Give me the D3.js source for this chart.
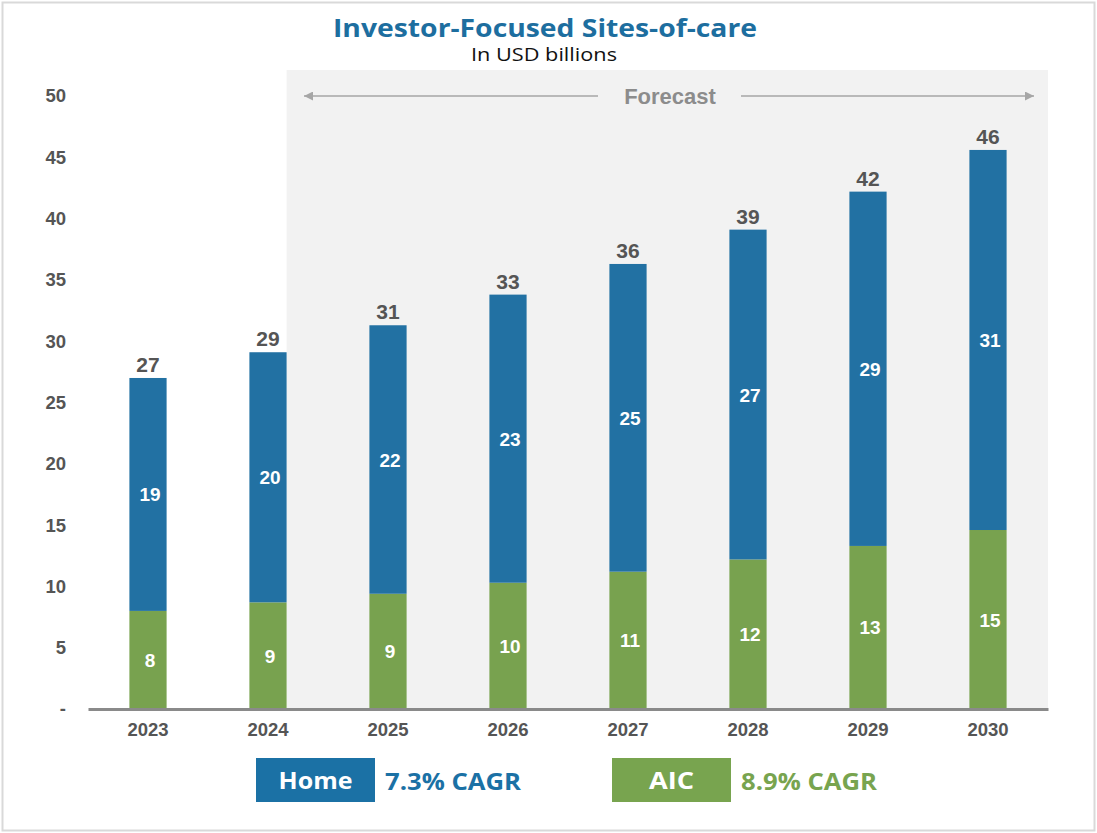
<!DOCTYPE html>
<html>
<head>
<meta charset="utf-8">
<script src="https://cdn.jsdelivr.net/npm/d3@7"></script>
<style>
  html, body { margin: 0; padding: 0; background: #fff; }
  svg { display: block; }
</style>
</head>
<body>
<svg id="chart" width="1097" height="833"></svg>
<script>
// ---- Data ----
const years = ["2023", "2024", "2025", "2026", "2027", "2028", "2029", "2030"];
const aicValues  = [8.0, 8.7, 9.4, 10.3, 11.2, 12.2, 13.3, 14.6];
const homeValues = [19.0, 20.4, 21.9, 23.5, 25.1, 26.9, 28.9, 31.0];
const aicLabels   = ["8", "9", "9", "10", "11", "12", "13", "15"];
const homeLabels  = ["19", "20", "22", "23", "25", "27", "29", "31"];
const totalLabels = ["27", "29", "31", "33", "36", "39", "42", "46"];
const yTicks = [0, 5, 10, 15, 20, 25, 30, 35, 40, 45, 50];
const forecastStart = "2025";
const legendItems = [
  { name: "Home", cagr: "7.3% CAGR", key: "home" },
  { name: "AIC",  cagr: "8.9% CAGR", key: "aic" }
];

// ---- Styles ----
const BLUE = "#2271a3", GREEN = "#78a24f";
const LEG_BLUE = "#1b71a5", LEG_GREEN = "#78a44f";
const TEXT_GREY = "#555555";
const SANS = "'Liberation Sans', Arial, sans-serif";
const MONT = "'Open Sans', 'Noto Sans', sans-serif";

const svg = d3.select("#chart");
const W = 1097, H = 833;

// frame
svg.append("rect").attr("x", 2.5).attr("y", 2.5).attr("width", W - 5).attr("height", H - 5)
  .attr("fill", "#fff").attr("stroke", "#d9d9d9").attr("stroke-width", 2);

const x = d3.scaleBand().domain(years).range([88, 1048]).paddingInner(0.69).paddingOuter(0.345);
const y = d3.scaleLinear().domain([0, 50]).range([709, 96]);

// stacked data
const rows = years.map((yr, i) => ({ year: yr, aic: aicValues[i], home: homeValues[i], i }));
const stack = d3.stack().keys(["aic", "home"]);
const series = stack(rows);
const colors = { aic: GREEN, home: BLUE };
const segLabels = { aic: aicLabels, home: homeLabels };

// forecast shading: starts at right edge of the last actual bar
const prevYear = years[years.indexOf(forecastStart) - 1];
const fx0 = x(prevYear) + x.bandwidth();
svg.append("rect").attr("x", fx0).attr("y", 70).attr("width", 1048 - fx0).attr("height", 709 - 70)
  .attr("fill", "#f2f2f2");

// forecast arrows and text
const fy = 96;
const defs = svg.append("defs");
defs.append("marker").attr("id", "arrow").attr("viewBox", "0 0 10 10").attr("refX", 10).attr("refY", 5)
  .attr("markerWidth", 10).attr("markerHeight", 9).attr("markerUnits", "userSpaceOnUse")
  .attr("orient", "auto")
  .append("path").attr("d", "M0,0 L10,5 L0,10 Z").attr("fill", "#a6a6a6");
svg.append("line").attr("x1", 598).attr("x2", 304).attr("y1", fy).attr("y2", fy)
  .attr("stroke", "#a6a6a6").attr("stroke-width", 1.5).attr("marker-end", "url(#arrow)");
svg.append("line").attr("x1", 741).attr("x2", 1034).attr("y1", fy).attr("y2", fy)
  .attr("stroke", "#a6a6a6").attr("stroke-width", 1.5).attr("marker-end", "url(#arrow)");
svg.append("text").attr("x", 670).attr("y", fy + 8).attr("text-anchor", "middle")
  .attr("font-family", SANS).attr("font-weight", "bold").attr("font-size", 22)
  .attr("fill", "#8c8c8c").text("Forecast");

// title
svg.append("text").attr("x", 545).attr("y", 37).attr("text-anchor", "middle")
  .attr("font-family", MONT).attr("font-weight", "bold").attr("font-size", 25)
  .attr("textLength", 424).attr("lengthAdjust", "spacingAndGlyphs")
  .attr("fill", "#1d6e9f").text("Investor-Focused Sites-of-care");
svg.append("text").attr("x", 544).attr("y", 61).attr("text-anchor", "middle")
  .attr("font-family", MONT).attr("font-size", 18)
  .attr("textLength", 146).attr("lengthAdjust", "spacingAndGlyphs")
  .attr("fill", "#111").text("In USD billions");

// y axis labels
const yAxis = d3.axisLeft(y).tickValues(yTicks).tickSize(0).tickPadding(0)
  .tickFormat(d => d === 0 ? "-" : d);
const yg = svg.append("g").attr("transform", "translate(66,0)").call(yAxis);
yg.select(".domain").remove();
yg.selectAll("text").attr("font-family", SANS).attr("font-weight", "bold")
  .attr("font-size", 18.5).attr("fill", TEXT_GREY);

// bars
const g = svg.append("g");
series.forEach(s => {
  g.selectAll(null).data(s).join("rect")
    .attr("x", d => x(d.data.year))
    .attr("y", d => y(d[1]))
    .attr("width", x.bandwidth())
    .attr("height", d => y(d[0]) - y(d[1]))
    .attr("fill", colors[s.key]);
  g.selectAll(null).data(s).join("text")
    .attr("x", d => x(d.data.year) + x.bandwidth() / 2 + 2)
    .attr("y", d => (y(d[0]) + y(d[1])) / 2 + 7)
    .attr("text-anchor", "middle")
    .attr("font-family", SANS).attr("font-weight", "bold").attr("font-size", 19)
    .attr("fill", "#fff")
    .text(d => segLabels[s.key][d.data.i]);
});

// totals
const topSeries = series[series.length - 1];
g.selectAll(null).data(topSeries).join("text")
  .attr("x", d => x(d.data.year) + x.bandwidth() / 2)
  .attr("y", d => y(d[1]) - 6)
  .attr("text-anchor", "middle")
  .attr("font-family", SANS).attr("font-weight", "bold").attr("font-size", 21)
  .attr("fill", TEXT_GREY)
  .text(d => totalLabels[d.data.i]);

// x axis
const xAxis = d3.axisBottom(x).tickSize(0).tickPadding(14);
const xg = svg.append("g").attr("transform", "translate(0,709)").call(xAxis);
xg.select(".domain").attr("stroke", "#8a8a8a").attr("stroke-width", 3);
xg.selectAll("text").attr("font-family", SANS).attr("font-weight", "bold")
  .attr("font-size", 18.5).attr("fill", TEXT_GREY);

// legend
const legX = [256, 612];
const nameLen = { home: 74, aic: 45 };
legendItems.forEach((it, i) => {
  const c = it.key === "home" ? LEG_BLUE : LEG_GREEN;
  const lg = svg.append("g").attr("transform", `translate(${legX[i]},758)`);
  lg.append("rect").attr("width", 119).attr("height", 44).attr("fill", c);
  lg.append("text").attr("x", 59.5).attr("y", 31).attr("text-anchor", "middle")
    .attr("font-family", MONT).attr("font-weight", "bold").attr("font-size", 23)
    .attr("textLength", nameLen[it.key]).attr("lengthAdjust", "spacingAndGlyphs")
    .attr("fill", "#fff").text(it.name);
  lg.append("text").attr("x", 129).attr("y", 32)
    .attr("font-family", MONT).attr("font-weight", "bold").attr("font-size", 23)
    .attr("textLength", 136).attr("lengthAdjust", "spacingAndGlyphs")
    .attr("fill", c).text(it.cagr);
});
</script>
</body>
</html>
